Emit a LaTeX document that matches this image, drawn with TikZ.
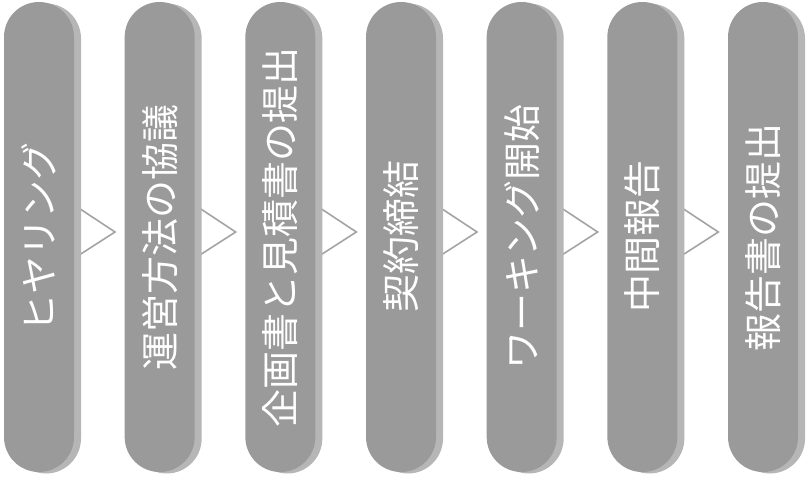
\documentclass[tikz,border=0pt]{standalone}
\usepackage{fontspec}
\newfontfamily\jpfont{Noto Sans CJK JP}
\usetikzlibrary{calc}
\pgfdeclarelayer{background}
\pgfsetlayers{background,main}
\definecolor{pillgray}{HTML}{9A9A9A}
\definecolor{extgray}{HTML}{B6B6B6}
\definecolor{chevgray}{HTML}{A4A4A4}
\tikzset{
  pillbase/.style={rectangle, rotate=90, minimum width=470pt, minimum height=70pt,
    rounded corners=35pt, inner sep=0pt},
  pill/.style={pillbase, fill=pillgray, text=white, font=\jpfont\fontsize{38pt}{40pt}\selectfont},
  extr/.style={pillbase, fill=extgray},
  chev/.style={draw=chevgray, line width=1.6pt, fill=white, line join=miter}
}
\begin{document}
\begin{tikzpicture}[x=1pt,y=1pt]
\useasboundingbox (0,0) rectangle (808,493);
\foreach \i/\t in {1/ヒヤリング,2/運営方法の協議,3/企画書と見積書の提出,4/契約締結,5/ワーキング開始,6/中間報告,7/報告書の提出}{
  \pgfmathsetmacro{\cx}{39+(\i-1)*120.67}
  \node[extr] (e\i) at (\cx+7,254.5) {};
  \node[pill] (p\i) at (\cx,256) {\t};
}
\begin{pgfonlayer}{background}
\foreach \i in {1,...,6}{
  \draw[chev] ($(p\i.center)+(20,42)$) -- ($(p\i.center)+(76,5)$) -- ($(p\i.center)+(20,-31)$) -- cycle;
}
\end{pgfonlayer}
\end{tikzpicture}
\end{document}
